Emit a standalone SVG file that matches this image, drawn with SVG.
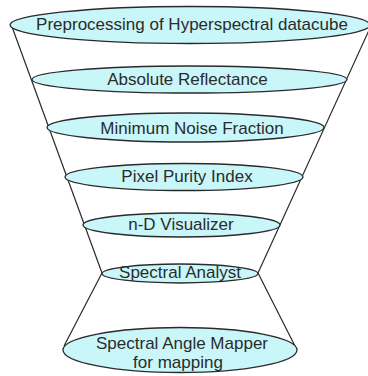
<svg xmlns="http://www.w3.org/2000/svg" width="368" height="376" viewBox="0 0 368 376">
<style>
.e{fill:#c9f6f9;stroke:#2a2a2a;stroke-width:1.3}
.t{font-family:"Liberation Sans",Arial,sans-serif;font-size:17px;fill:#2b2b2b;text-anchor:middle}
.c{fill:none;stroke:#2a2a2a;stroke-width:1.2}
</style>
<rect width="368" height="376" fill="#ffffff"/>
<g id="connectors">
<line class="c" x1="11" y1="24" x2="102" y2="273"/>
<line class="c" x1="370" y1="28" x2="258" y2="273"/>
<line class="c" x1="102" y1="273" x2="64" y2="346"/>
<line class="c" x1="258" y1="273" x2="296" y2="348"/>
</g>
<g id="n1"><ellipse class="e" cx="190" cy="25" rx="180" ry="18.5"/><text class="t" x="192" y="30">Preprocessing of Hyperspectral datacube</text></g>
<g id="n2"><ellipse class="e" cx="189.5" cy="79.5" rx="157.5" ry="13.5"/><text class="t" x="187.5" y="85">Absolute Reflectance</text></g>
<g id="n3"><ellipse class="e" cx="185.5" cy="127.5" rx="138.5" ry="14.5"/><text class="t" x="192" y="134">Minimum Noise Fraction</text></g>
<g id="n4"><ellipse class="e" cx="184" cy="177" rx="119" ry="13.5"/><text class="t" x="187" y="182">Pixel Purity Index</text></g>
<g id="n5"><ellipse class="e" cx="181.5" cy="225" rx="98.5" ry="12"/><text class="t" x="181" y="230">n-D Visualizer</text></g>
<g id="n6"><ellipse class="e" cx="180" cy="273.5" rx="78" ry="9.5"/><text class="t" x="180" y="278">Spectral Analyst</text></g>
<g id="n7"><ellipse class="e" cx="180" cy="350" rx="117" ry="22.5"/><text class="t" x="182" y="348.5">Spectral Angle Mapper</text><text class="t" x="178" y="368">for mapping</text></g>
</svg>
